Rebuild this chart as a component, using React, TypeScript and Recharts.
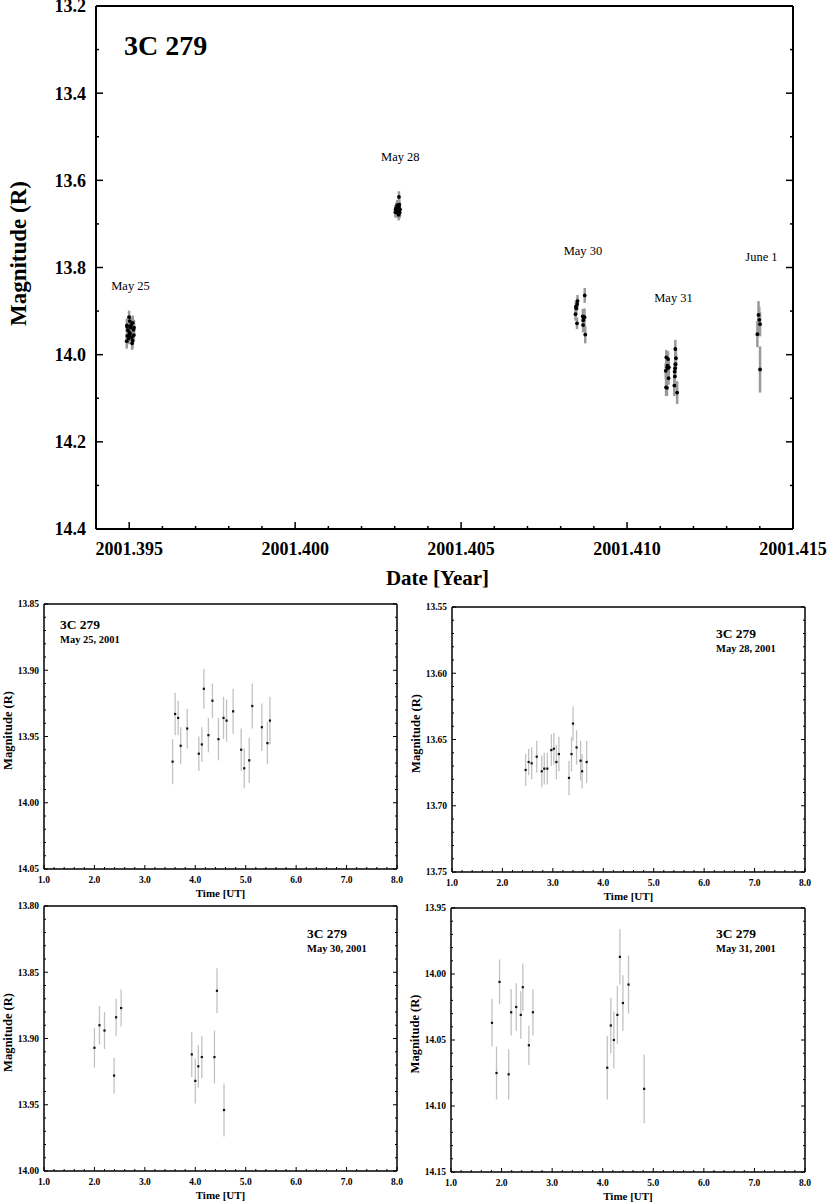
import React from 'react';
import { ScatterChart, Scatter, XAxis, YAxis, ErrorBar, ReferenceDot, Label } from 'recharts';

const FONT = '"Liberation Serif", "Times New Roman", serif';

// R-band photometry of 3C 279, one set per night: UT hours, magnitude, 1-sigma error
const may25Time = [3.55, 3.60, 3.66, 3.71, 3.84, 4.07, 4.13, 4.17, 4.26, 4.34, 4.46, 4.56, 4.62, 4.75, 4.91, 4.97, 5.07, 5.13, 5.32, 5.43, 5.48];
const may25Mag = [13.969, 13.933, 13.936, 13.957, 13.944, 13.963, 13.956, 13.914, 13.949, 13.923, 13.952, 13.936, 13.938, 13.931, 13.960, 13.974, 13.968, 13.927, 13.943, 13.955, 13.938];
const may25Err = [0.017, 0.016, 0.013, 0.014, 0.015, 0.013, 0.013, 0.015, 0.013, 0.013, 0.016, 0.016, 0.016, 0.017, 0.016, 0.015, 0.017, 0.017, 0.018, 0.016, 0.018];

const may28Time = [2.46, 2.52, 2.58, 2.68, 2.78, 2.83, 2.89, 2.97, 3.02, 3.07, 3.12, 3.32, 3.37, 3.40, 3.47, 3.55, 3.58, 3.67];
const may28Mag = [13.673, 13.667, 13.668, 13.663, 13.674, 13.672, 13.672, 13.658, 13.657, 13.667, 13.661, 13.679, 13.661, 13.638, 13.656, 13.666, 13.674, 13.667];
const may28Err = [0.012, 0.010, 0.012, 0.012, 0.012, 0.012, 0.012, 0.012, 0.012, 0.013, 0.013, 0.013, 0.013, 0.013, 0.013, 0.015, 0.013, 0.016];

const may30Time = [2.00, 2.10, 2.20, 2.39, 2.43, 2.53, 3.93, 4.00, 4.06, 4.13, 4.38, 4.43, 4.57];
const may30Mag = [13.907, 13.890, 13.894, 13.928, 13.884, 13.877, 13.912, 13.932, 13.921, 13.914, 13.914, 13.864, 13.954];
const may30Err = [0.015, 0.0145, 0.014, 0.0135, 0.014, 0.014, 0.017, 0.017, 0.016, 0.016, 0.020, 0.017, 0.020];

const may31Time = [1.81, 1.90, 1.96, 2.14, 2.19, 2.29, 2.38, 2.42, 2.54, 2.62, 4.09, 4.16, 4.22, 4.29, 4.34, 4.40, 4.51, 4.82];
const may31Mag = [14.037, 14.075, 14.006, 14.076, 14.029, 14.025, 14.031, 14.010, 14.054, 14.029, 14.071, 14.039, 14.050, 14.031, 13.987, 14.022, 14.008, 14.087];
const may31Err = [0.018, 0.020, 0.017, 0.019, 0.0175, 0.018, 0.018, 0.018, 0.015, 0.0175, 0.024, 0.021, 0.0215, 0.022, 0.021, 0.021, 0.022, 0.026];

const jun1Time = [2.0, 2.3, 2.5, 2.7, 2.7];
const jun1Mag = [13.953, 13.909, 13.920, 13.930, 14.034];
const jun1Err = [0.030, 0.032, 0.030, 0.028, 0.053];

// day of year for each night (2001)
const nightDoy = [145, 148, 150, 151, 152];

// night labels on the overview plot
const annoText = ['May 25', 'May 28', 'May 30', 'May 31', 'June 1'];
const annoYear = [2001.39504, 2001.40317, 2001.40867, 2001.4114, 2001.41405];
const annoMag = [13.8425, 13.546, 13.76, 13.869, 13.775];

const rows = (t: number[], m: number[], e: number[]) => t.map((x, i) => ({ t: x, mag: m[i], err: e[i] }));

const may25 = rows(may25Time, may25Mag, may25Err);
const may28 = rows(may28Time, may28Mag, may28Err);
const may30 = rows(may30Time, may30Mag, may30Err);
const may31 = rows(may31Time, may31Mag, may31Err);
const jun1 = rows(jun1Time, jun1Mag, jun1Err);

const allNights = [may25, may28, may30, may31, jun1];
const overview = allNights.flatMap((night, k) =>
  night.map((p) => ({ year: 2001 + (nightDoy[k] - 1 + p.t / 24) / 365, mag: p.mag, err: p.err }))
);

const steps = (from: number, to: number, step: number) => {
  const out: number[] = [];
  const n = Math.round((to - from) / step);
  for (let i = 0; i <= n; i++) out.push(+(from + i * step).toFixed(6));
  return out;
};

const topXTicks = steps(2001.394, 2001.415, 0.001);
const topXMajors = [2001.395, 2001.4, 2001.405, 2001.41, 2001.415];
const topYTicks = steps(13.2, 14.4, 0.1);
const topYMajors = steps(13.2, 14.4, 0.2);

const subXTicks = steps(1, 8, 0.2);
const subXMajors = steps(1, 8, 1);

type TickOpts = {
  side: 'bottom' | 'top' | 'left' | 'right';
  majors: number[];
  major: number;
  minor: number;
  gap: number;
  fmt?: (v: number) => string;
  size?: number;
  width?: number;
};

// inward tick marks, labels outside the frame (tickSize is 0, so x/y = axis + gap)
const makeTick = (o: TickOpts) => (props: any) => {
  const { x, y, payload } = props;
  const v = payload.value;
  const big = o.majors.some((m) => Math.abs(m - v) < 1e-7);
  const len = big ? o.major : o.minor;
  const sw = o.width ?? 1;
  const txt = big && o.fmt ? o.fmt(v) : null;
  const ts = { fontFamily: FONT, fontSize: o.size, fontWeight: 700, fill: '#000' };
  if (o.side === 'bottom') {
    const ay = y - o.gap;
    return (
      <g>
        <line x1={x} x2={x} y1={ay} y2={ay - len} stroke="#000" strokeWidth={sw} />
        {txt && <text x={x} y={y} dy="0.71em" textAnchor="middle" style={ts}>{txt}</text>}
      </g>
    );
  }
  if (o.side === 'top') {
    const ay = y + o.gap;
    return <line x1={x} x2={x} y1={ay} y2={ay + len} stroke="#000" strokeWidth={sw} />;
  }
  if (o.side === 'left') {
    const ax = x + o.gap;
    return (
      <g>
        <line x1={ax} x2={ax + len} y1={y} y2={y} stroke="#000" strokeWidth={sw} />
        {txt && <text x={x} y={y} dy="0.355em" textAnchor="end" style={ts}>{txt}</text>}
      </g>
    );
  }
  const ax = x - o.gap;
  return <line x1={ax} x2={ax - len} y1={y} y2={y} stroke="#000" strokeWidth={sw} />;
};

const bigDot = (p: any) => <circle cx={p.cx} cy={p.cy} r={1.9} fill="#000" />;
const smallDot = (p: any) => <rect x={p.cx - 1.1} y={p.cy - 1.1} width={2.2} height={2.2} fill="#111" />;

const Overview = () => (
  <div style={{ position: 'absolute', left: 0, top: 0 }}>
    <ScatterChart width={830} height={600} margin={{ top: 5, right: 36, bottom: 0, left: 0 }}>
      <XAxis
        dataKey="year" type="number" domain={[2001.394, 2001.415]} allowDataOverflow
        ticks={topXTicks} interval={0} height={71} tickLine={false} tickSize={0} tickMargin={13}
        axisLine={{ stroke: '#000', strokeWidth: 2 }}
        tick={makeTick({ side: 'bottom', majors: topXMajors, major: 7, minor: 3, gap: 13, size: 18, width: 1.5, fmt: (v) => v.toFixed(3) })}
      >
        <Label value="Date [Year]" position="insideBottom" offset={15} dx={-7}
          style={{ fontFamily: FONT, fontSize: 21, fontWeight: 700, fill: '#000' }} />
      </XAxis>
      <XAxis
        xAxisId="top" orientation="top" type="number" domain={[2001.394, 2001.415]} allowDataOverflow
        ticks={topXTicks} interval={0} height={1} tickLine={false} tickSize={0} tickMargin={0}
        axisLine={{ stroke: '#000', strokeWidth: 2 }}
        tick={makeTick({ side: 'top', majors: topXMajors, major: 7, minor: 3, gap: 0, width: 1.5 })}
      />
      <YAxis
        dataKey="mag" type="number" reversed domain={[13.2, 14.4]} allowDataOverflow
        ticks={topYTicks} interval={0} width={96} tickLine={false} tickSize={0} tickMargin={10}
        axisLine={{ stroke: '#000', strokeWidth: 2 }}
        tick={makeTick({ side: 'left', majors: topYMajors, major: 7, minor: 3, gap: 10, size: 18, width: 1.5, fmt: (v) => v.toFixed(1) })}
      >
        <Label value="Magnitude (R)" angle={-90} position="insideLeft" offset={18} dy={-14}
          style={{ fontFamily: FONT, fontSize: 23, fontWeight: 700, fill: '#000', textAnchor: 'middle' }} />
      </YAxis>
      <YAxis
        yAxisId="right" orientation="right" type="number" reversed domain={[13.2, 14.4]} allowDataOverflow
        ticks={topYTicks} interval={0} width={1} tickLine={false} tickSize={0} tickMargin={0}
        axisLine={{ stroke: '#000', strokeWidth: 2 }}
        tick={makeTick({ side: 'right', majors: topYMajors, major: 7, minor: 3, gap: 0, width: 1.5 })}
      />
      <Scatter data={overview} shape={bigDot} isAnimationActive={false}>
        <ErrorBar dataKey="err" direction="y" width={0} stroke="#9a9a9a" strokeWidth={2.5} />
      </Scatter>
      {annoText.map((s, i) => (
        <ReferenceDot key={s} x={annoYear[i]} y={annoMag[i]} r={0} fill="none" stroke="none"
          label={{ value: s, position: 'center', style: { fontFamily: FONT, fontSize: 12.5, fill: '#000' } }} />
      ))}
    </ScatterChart>
    <div style={{ position: 'absolute', left: 124, top: 32, fontFamily: FONT, fontSize: 28, fontWeight: 700, lineHeight: '28px', whiteSpace: 'nowrap' }}>
      3C 279
    </div>
  </div>
);

type PanelProps = {
  data: { t: number; mag: number; err: number }[];
  left: number;
  top: number;
  w: number;
  h: number;
  yFrom: number;
  date: string;
  titleDx: number;
  titleDy: number;
};

const Panel = ({ data, left, top, w, h, yFrom, date, titleDx, titleDy }: PanelProps) => {
  const yDomain = [yFrom, +(yFrom + 0.2).toFixed(2)];
  const yTicks = steps(yDomain[0], yDomain[1], 0.01);
  const yMajors = steps(yDomain[0], yDomain[1], 0.05);
  return (
    <>
      <div style={{ position: 'absolute', left: left - 44, top: top - 14 }}>
        <ScatterChart width={w + 62} height={h + 48} margin={{ top: 13, right: 17, bottom: 0, left: 0 }}>
          <XAxis
            dataKey="t" type="number" domain={[1, 8]} allowDataOverflow
            ticks={subXTicks} interval={0} height={34} tickLine={false} tickSize={0} tickMargin={7}
            axisLine={{ stroke: '#000', strokeWidth: 1.5 }}
            tick={makeTick({ side: 'bottom', majors: subXMajors, major: 4, minor: 2, gap: 7, size: 9.5, fmt: (v) => v.toFixed(1) })}
          >
            <Label value="Time [UT]" position="insideBottom" offset={6}
              style={{ fontFamily: FONT, fontSize: 11, fontWeight: 700, fill: '#000' }} />
          </XAxis>
          <XAxis
            xAxisId="top" orientation="top" type="number" domain={[1, 8]} allowDataOverflow
            ticks={subXTicks} interval={0} height={1} tickLine={false} tickSize={0} tickMargin={0}
            axisLine={{ stroke: '#000', strokeWidth: 1.5 }}
            tick={makeTick({ side: 'top', majors: subXMajors, major: 4, minor: 2, gap: 0 })}
          />
          <YAxis
            dataKey="mag" type="number" reversed domain={yDomain} allowDataOverflow
            ticks={yTicks} interval={0} width={44} tickLine={false} tickSize={0} tickMargin={5}
            axisLine={{ stroke: '#000', strokeWidth: 1.5 }}
            tick={makeTick({ side: 'left', majors: yMajors, major: 4, minor: 2, gap: 5, size: 9.5, fmt: (v) => v.toFixed(2) })}
          >
            <Label value="Magnitude (R)" angle={-90} position="insideLeft" offset={8} dy={-6}
              style={{ fontFamily: FONT, fontSize: 12.5, fontWeight: 700, fill: '#000', textAnchor: 'middle' }} />
          </YAxis>
          <YAxis
            yAxisId="right" orientation="right" type="number" reversed domain={yDomain} allowDataOverflow
            ticks={yTicks} interval={0} width={1} tickLine={false} tickSize={0} tickMargin={0}
            axisLine={{ stroke: '#000', strokeWidth: 1.5 }}
            tick={makeTick({ side: 'right', majors: yMajors, major: 4, minor: 2, gap: 0 })}
          />
          <Scatter data={data} shape={smallDot} isAnimationActive={false}>
            <ErrorBar dataKey="err" direction="y" width={0} stroke="#c2c2c2" strokeWidth={1.3} />
          </Scatter>
        </ScatterChart>
      </div>
      <div style={{ position: 'absolute', left: left + titleDx, top: top + titleDy, fontFamily: FONT, fontWeight: 700, whiteSpace: 'nowrap' }}>
        <div style={{ fontSize: 13.5, lineHeight: '14px' }}>3C 279</div>
        <div style={{ fontSize: 10.5, lineHeight: '12px', marginTop: 2 }}>{date}</div>
      </div>
    </>
  );
};

export default function App() {
  return (
    <div style={{ position: 'absolute', left: 0, top: 0, width: 830, height: 1202, background: '#fff', overflow: 'hidden' }}>
      <Overview />
      <Panel data={may25} left={44} top={604} w={353} h={265} yFrom={13.85} date="May 25, 2001" titleDx={16} titleDy={14} />
      <Panel data={may28} left={452} top={607} w={353} h={265} yFrom={13.55} date="May 28, 2001" titleDx={264} titleDy={20} />
      <Panel data={may30} left={44} top={906} w={353} h={265} yFrom={13.8} date="May 30, 2001" titleDx={263} titleDy={21} />
      <Panel data={may31} left={451} top={908} w={354} h={264} yFrom={13.95} date="May 31, 2001" titleDx={265} titleDy={19} />
    </div>
  );
}
